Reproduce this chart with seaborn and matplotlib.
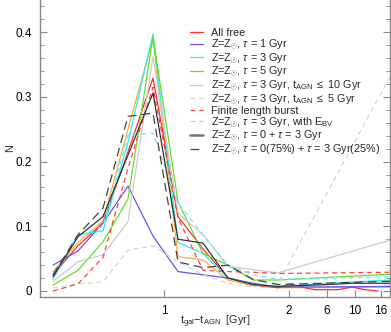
import numpy as np
import pandas as pd
import matplotlib
matplotlib.use('Agg')
import matplotlib.pyplot as plt
from matplotlib.lines import Line2D
import seaborn as sns

'''
data: x is the bin position along the (non-uniform) age axis
'''
x_main = [0, 1, 2, 3, 4, 5, 6, 7, 8, 9]
x_end = 13.52

all_free_x = x_main + [9.48, 10.08, 10.48, 11.4, 11.96, 12.48, 13.0]
all_free = [0.025, 0.070, 0.105, 0.215, 0.329, 0.115, 0.065, 0.020, 0.010, 0.005,
            0.011, 0.005, 0.002, 0.002, 0.006, 0.002, 0.000]

tau1_x = x_main + [x_end]
tau1 = [0.040, 0.062, 0.105, 0.162, 0.085, 0.030, 0.025, 0.020, 0.012, 0.006, 0.007]

tau3_x = x_main + [11.0, x_end]
tau3 = [0.018, 0.087, 0.093, 0.230, 0.397, 0.075, 0.058, 0.020, 0.010, 0.007, 0.012, 0.017]

tau5_x = x_main + [x_end]
tau5 = [0.009, 0.032, 0.076, 0.142, 0.393, 0.138, 0.058, 0.040, 0.017, 0.017, 0.026]

agn10_x = x_main + [x_end]
agn10 = [0.015, 0.045, 0.056, 0.107, 0.362, 0.120, 0.087, 0.038, 0.033, 0.028, 0.079]

agn5_x = x_main + [x_end]
agn5 = [0.005, 0.011, 0.014, 0.063, 0.070, 0.045, 0.025, 0.012, 0.006, 0.012, 0.334]

burst_x = x_main + [x_end]
burst = [0.000, 0.011, 0.052, 0.190, 0.315, 0.113, 0.032, 0.030, 0.029, 0.027, 0.029]

ebv_x = x_main + [x_end]
ebv = [0.020, 0.085, 0.100, 0.241, 0.244, 0.136, 0.087, 0.040, 0.025, 0.018, 0.022]

two_pop_x = x_main + [11.0, 12.0, x_end]
two_pop = [0.022, 0.084, 0.115, 0.210, 0.306, 0.080, 0.074, 0.020, 0.010, 0.007, 0.010, 0.012, 0.012]

mix_x = x_main + [x_end]
mix = [0.025, 0.087, 0.128, 0.270, 0.275, 0.045, 0.036, 0.040, 0.018, 0.010, 0.015]

orange_x = x_main + [x_end]
orange = [0.030, 0.075, 0.108, 0.250, 0.390, 0.053, 0.048, 0.017, 0.008, 0.005, 0.006]

tick_pos = [4.44, 9.44, 10.96, 12.08, 13.12]
tick_labels = ['1', '2', '6', '10', '16']

'''
style
'''
sns.set_style('ticks')
plt.rcParams['font.family'] = ['Liberation Sans', 'DejaVu Sans']
plt.rcParams['mathtext.fontset'] = 'custom'
plt.rcParams['mathtext.rm'] = 'Liberation Sans'
plt.rcParams['mathtext.it'] = 'Liberation Sans:italic'
plt.rcParams['mathtext.fallback'] = 'cm'

fig = plt.figure(figsize=(3.91, 3.32), dpi=100)
ax = fig.add_axes([0.1023, 0.1054, 0.8951, 0.8946])

series = [
    (orange_x, orange, '#ffaa33', '-', None),
    (all_free_x, all_free, '#ff2a2a', '-', 'All free'),
    (tau1_x, tau1, '#6a55e8', '-', r'Z=Z$_{\odot}$, $\tau$ = 1 Gyr'),
    (tau3_x, tau3, '#22eeff', '-', r'Z=Z$_{\odot}$, $\tau$ = 3 Gyr'),
    (tau5_x, tau5, '#66dd22', '-', r'Z=Z$_{\odot}$, $\tau$ = 5 Gyr'),
    (agn10_x, agn10, '#cccccc', '-', r'Z=Z$_{\odot}$, $\tau$ = 3 Gyr, t$_{\rm AGN}$ $\leq$ 10 Gyr'),
    (agn5_x, agn5, '#d4d4d4', (0, (4, 3)), r'Z=Z$_{\odot}$, $\tau$ = 3 Gyr, t$_{\rm AGN}$ $\leq$ 5 Gyr'),
    (burst_x, burst, '#ff4040', (0, (4, 3)), 'Finite length burst'),
    (ebv_x, ebv, '#66eeff', (0, (4, 3)), r'Z=Z$_{\odot}$, $\tau$ = 3 Gyr, with E$_{\rm BV}$'),
    (two_pop_x, two_pop, '#333333', '-', r'Z=Z$_{\odot}$, $\tau$ = 0 + $\tau$ = 3 Gyr'),
    (mix_x, mix, '#444444', (0, (7, 4)), r'Z=Z$_{\odot}$, $\tau$ = 0(75%) + $\tau$ = 3 Gyr(25%)'),
]

handles = []
for xs, ys, col, ls, lab in series:
    df = pd.DataFrame({'x': xs, 'y': ys})
    sns.lineplot(data=df, x='x', y='y', color=col, linestyle=ls, linewidth=0.9,
                 sort=False, estimator=None, ax=ax, legend=False)
    if lab is not None:
        hcol = '#777777' if col == '#333333' else col
        hlw = 1.8 if col == '#333333' else 0.9
        handles.append(Line2D([], [], color=hcol, linestyle=ls, linewidth=hlw, label=lab))

ax.set_xlim(-0.52, 13.48)
ax.set_ylim(-0.0093, 0.4498)
ax.set_xticks(tick_pos)
ax.set_xticklabels(tick_labels)
ax.set_yticks([0, 0.1, 0.2, 0.3, 0.4])
ax.set_yticklabels(['0', '0.1', '0.2', '0.3', '0.4'])
ax.set_yticks(np.arange(0, 0.45, 0.02), minor=True)

ax.tick_params(axis='both', which='both', direction='in', labelsize=8.5, colors='#888888',
               labelcolor='black')
ax.tick_params(axis='y', which='both', right=True)
ax.tick_params(axis='both', which='major', length=5, width=0.8, pad=6)
ax.tick_params(axis='both', which='minor', length=3, width=0.6)

for side in ['left', 'right', 'bottom']:
    ax.spines[side].set_color('#888888')
    ax.spines[side].set_linewidth(1)
ax.spines['top'].set_visible(False)

ax.set_xlabel(r't$_{\rm gal}$$-$t$_{\rm AGN}$  [Gyr]', fontsize=7.8, labelpad=-2.5)
ax.set_ylabel('N', fontsize=7.8, labelpad=0)

ax.legend(handles=handles, loc='upper left', bbox_to_anchor=(0.4286, 0.905),
          frameon=False, fontsize=7.8, handlelength=1.2, handletextpad=0.7,
          labelspacing=-0.06, borderpad=0, borderaxespad=0)

plt.savefig('out.png', dpi=100)
